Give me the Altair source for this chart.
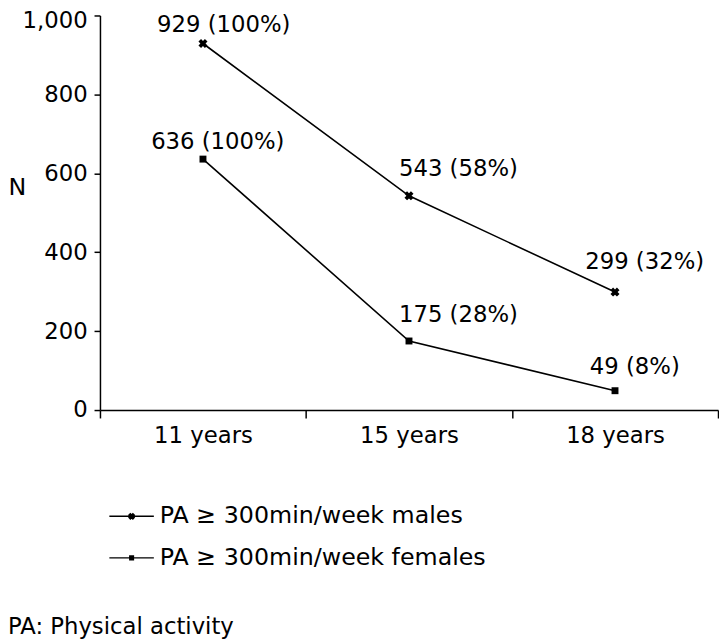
import math
import altair as alt
import pandas as pd

# ---- data ----
ages = ["11 years", "15 years", "18 years"]
males = [929, 543, 299]
males_pct = [100, 58, 32]
females = [636, 175, 49]
females_pct = [100, 28, 8]
y_ticks = [0, 200, 400, 600, 800, 1000]
male_name = "PA \u2265 300min/week males"
female_name = "PA \u2265 300min/week females"
footnote = "PA: Physical activity"
y_title = "N"

FONT = "DejaVu Sans"
FS = 23

# label offsets (style): per series, per age (dx, dy)
label_offsets = {
    "m": {"11 years": (21, -19), "15 years": (50, -27), "18 years": (30, -30)},
    "f": {"11 years": (15, -17), "15 years": (50, -26), "18 years": (20, -24)},
}


def frame(vals, pcts, name):
    return pd.DataFrame({
        "age": ages,
        "n": vals,
        "series": [name] * len(ages),
        "label": [f"{v:,} ({p}%)" for v, p in zip(vals, pcts)],
    })


def fmt(pts):
    return "M" + "L".join(f"{x:.3f},{y:.3f}" for x, y in pts) + "Z"


# legend symbol paths: horizontal line + marker
a, t = 0.12, 0.04
plus = [(t, a), (t, t), (a, t), (a, -t), (t, -t), (t, -a), (-t, -a), (-t, -t),
        (-a, -t), (-a, t), (-t, t), (-t, a)]
xpts = [((x - y) / math.sqrt(2), (x + y) / math.sqrt(2)) for x, y in plus]
sq = 0.08
sqpts = [(-sq, -sq), (sq, -sq), (sq, sq), (-sq, sq)]
path_m = "M-1,0L1,0" + fmt(xpts)
path_f = "M-1,0L1,0" + fmt(sqpts)

x_enc = alt.X("age:N", sort=ages,
              scale=alt.Scale(domain=ages, paddingInner=0, paddingOuter=0),
              axis=alt.Axis(title=None, tickBand="extent", tickSize=8,
                            labelPadding=7, labelAngle=0))
y_enc = alt.Y("n:Q", scale=alt.Scale(domain=[0, 1000], nice=False),
              axis=alt.Axis(values=y_ticks, format=",.0f", title=y_title,
                            titleAngle=0, titleX=-93, titleY=174,
                            titleAlign="left", titleBaseline="middle",
                            titleFontSize=24, titleFontWeight="normal",
                            titleFont=FONT, titleColor="black",
                            tickSize=6, labelPadding=7,
                            labelOffset={"condition": {"test": "datum.value == 1000",
                                                       "value": 5},
                                         "value": 0}))


def series_layer(vals, pcts, name, key, path, legend_y, shape_kw):
    df = frame(vals, pcts, name)
    base = alt.Chart(df).encode(x=x_enc, y=y_enc)
    line = base.mark_line(strokeWidth=1.6).encode(
        stroke=alt.Stroke("series:N",
                          scale=alt.Scale(domain=[name], range=["black"]),
                          legend=alt.Legend(
                              orient="none", legendX=8.5, legendY=legend_y,
                              title=None, symbolType=path, symbolSize=2025,
                              symbolStrokeWidth=1.5, symbolStrokeColor="black",
                              symbolFillColor="black", symbolOpacity=1,
                              labelFont=FONT, labelFontSize=24, labelLimit=0,
                              labelColor="black", labelOffset=5, padding=0))
    )
    pts = base.mark_point(filled=True, color="black", opacity=1, **shape_kw)
    texts = []
    for age in ages:
        dx, dy = label_offsets[key][age]
        texts.append(
            base.transform_filter(alt.datum.age == age)
            .mark_text(dx=dx, dy=dy, font=FONT, fontSize=FS, color="black",
                       align="center", baseline="middle")
            .encode(text="label:N")
        )
    return alt.layer(line, pts, *texts)


males_layer = series_layer(males, males_pct, male_name, "m", path_m, 483,
                           dict(shape="cross", angle=45, size=85))
females_layer = series_layer(females, females_pct, female_name, "f", path_f, 525,
                             dict(shape="square", size=49))

foot = alt.Chart(pd.DataFrame({"t": [footnote]})).mark_text(
    align="left", baseline="alphabetic", font=FONT, fontSize=23, color="black"
).encode(x=alt.value(-93), y=alt.value(625), text="t:N")

chart = (
    alt.layer(males_layer, females_layer, foot)
    .resolve_scale(stroke="independent")
    .resolve_legend(stroke="independent")
    .properties(
        width=625, height=399,
        padding={"left": 93, "top": 4, "right": 1, "bottom": 231},
        autosize=alt.AutoSizeParams(type="none"),
        background="white",
    )
    .configure_view(stroke=None)
    .configure_axis(grid=False, domainColor="black", domainWidth=1.5,
                    tickColor="black", tickWidth=1.5, labelColor="black",
                    labelFont=FONT, labelFontSize=FS)
)

chart.save("out.html", embed_options={"renderer": "svg", "actions": False})
